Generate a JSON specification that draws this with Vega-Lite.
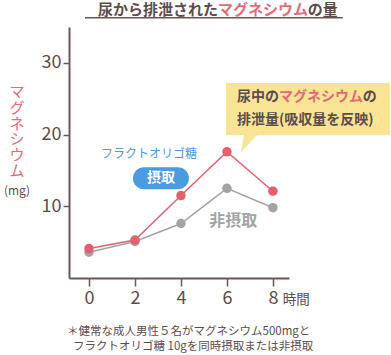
{
  "$schema": "https://vega.github.io/schema/vega-lite/v6.json",
  "width": 220,
  "height": 251,
  "autosize": "none",
  "padding": {"left": 69, "top": 27, "right": 102, "bottom": 77},
  "background": "white",
  "config": {"view": {"stroke": null}, "font": "Noto Sans CJK JP"},
  "datasets": {
    "main": [
      {"t": 0, "group": "非摂取", "mg": 3.6},
      {"t": 2, "group": "非摂取", "mg": 5.1},
      {"t": 4, "group": "非摂取", "mg": 7.6},
      {"t": 6, "group": "非摂取", "mg": 12.5},
      {"t": 8, "group": "非摂取", "mg": 9.8},
      {"t": 0, "group": "摂取", "mg": 4.1},
      {"t": 2, "group": "摂取", "mg": 5.3},
      {"t": 4, "group": "摂取", "mg": 11.5},
      {"t": 6, "group": "摂取", "mg": 17.6},
      {"t": 8, "group": "摂取", "mg": 12.1}
    ],
    "one": [{"a": 1}]
  },
  "layer": [
    {"data": {"name": "main"}, "transform": [{"filter": "datum.group === '非摂取'"}], "mark": {"type": "line", "color": "#a3a3a3", "strokeWidth": 1.5},
      "encoding": {
        "x": {"field": "t", "type": "quantitative",
          "scale": {"domain": [-0.87, 8.7], "nice": false, "zero": false},
          "axis": {"values": [0, 2, 4, 6, 8], "title": null, "grid": false,
            "domainColor": "#6b5656", "domainWidth": 2, "tickColor": "#6b5656", "tickWidth": 1.5, "tickSize": 8,
            "labelFontSize": 18, "labelColor": "#5e4b4b", "labelPadding": 3}},
        "y": {"field": "mg", "type": "quantitative",
          "scale": {"domain": [0, 35], "nice": false},
          "axis": {"values": [10, 20, 30], "title": null, "grid": false,
            "domainColor": "#6b5656", "domainWidth": 2, "tickColor": "#6b5656", "tickWidth": 1.5, "tickSize": 6,
            "labelFontSize": 18, "labelColor": "#5e4b4b", "labelPadding": 2}}
      }},
    {"data": {"name": "main"}, "transform": [{"filter": "datum.group === '非摂取'"}], "mark": {"type": "point", "filled": true, "color": "#a3a3a3", "opacity": 1, "size": 90},
      "encoding": {"x": {"field": "t", "type": "quantitative"}, "y": {"field": "mg", "type": "quantitative"}}},
    {"data": {"name": "main"}, "transform": [{"filter": "datum.group === '摂取'"}], "mark": {"type": "line", "color": "#e3606e", "strokeWidth": 1.5},
      "encoding": {"x": {"field": "t", "type": "quantitative"}, "y": {"field": "mg", "type": "quantitative"}}},
    {"data": {"name": "main"}, "transform": [{"filter": "datum.group === '摂取'"}], "mark": {"type": "point", "filled": true, "color": "#e3606e", "opacity": 1, "size": 90},
      "encoding": {"x": {"field": "t", "type": "quantitative"}, "y": {"field": "mg", "type": "quantitative"}}},

    {"data": {"name": "one"}, "mark": {"type": "rect", "color": "#f9e494"},
      "encoding": {"x": {"datum": 5.957}, "x2": {"datum": 13.09}, "y": {"datum": 27.2}, "y2": {"datum": 19.93}}},
    {"data": {"name": "one"}, "mark": {"type": "point", "filled": true, "color": "#f9e494", "opacity": 1, "size": 400, "shape": "M-0.5,-1.3L1.2,-1.3L-0.9,0.9Z"},
      "encoding": {"x": {"datum": 7.0}, "y": {"datum": 18.81}}},
    {"data": {"name": "one"}, "mark": {"type": "text", "text": "尿中の", "align": "left", "baseline": "middle", "fontSize": 14, "fontWeight": "bold", "color": "#5e4b4b"},
      "encoding": {"x": {"datum": 6.435}, "y": {"datum": 25.24}}},
    {"data": {"name": "one"}, "mark": {"type": "text", "text": "マグネシウム", "align": "left", "baseline": "middle", "fontSize": 14, "fontWeight": "bold", "color": "#e36a78"},
      "encoding": {"x": {"datum": 8.26}, "y": {"datum": 25.24}}},
    {"data": {"name": "one"}, "mark": {"type": "text", "text": "の", "align": "left", "baseline": "middle", "fontSize": 14, "fontWeight": "bold", "color": "#5e4b4b"},
      "encoding": {"x": {"datum": 11.91}, "y": {"datum": 25.24}}},
    {"data": {"name": "one"}, "mark": {"type": "text", "text": "排泄量(吸収量を反映)", "align": "left", "baseline": "middle", "fontSize": 14, "fontWeight": "bold", "color": "#5e4b4b"},
      "encoding": {"x": {"datum": 6.435}, "y": {"datum": 22.03}}},

    {"data": {"name": "one"}, "mark": {"type": "text", "text": "尿から排泄された", "align": "right", "baseline": "middle", "fontSize": 15, "fontWeight": "bold", "color": "#5e4b4b"},
      "encoding": {"x": {"datum": 5.609}, "y": {"datum": 37.34}}},
    {"data": {"name": "one"}, "mark": {"type": "text", "text": "マグネシウム", "align": "left", "baseline": "middle", "fontSize": 15, "fontWeight": "bold", "color": "#e36a78"},
      "encoding": {"x": {"datum": 5.609}, "y": {"datum": 37.34}}},
    {"data": {"name": "one"}, "mark": {"type": "text", "text": "の量", "align": "left", "baseline": "middle", "fontSize": 15, "fontWeight": "bold", "color": "#5e4b4b"},
      "encoding": {"x": {"datum": 9.52}, "y": {"datum": 37.34}}},
    {"data": {"name": "one"}, "mark": {"type": "rule", "color": "#6b5656", "strokeWidth": 1.5},
      "encoding": {"x": {"datum": -0.174}, "x2": {"datum": 11.04}, "y": {"datum": 36.29}}},

    {"data": {"name": "one"}, "mark": {"type": "text", "text": ["マ", "グ", "ネ", "シ", "ウ", "ム"], "align": "center", "baseline": "middle", "fontSize": 15, "lineHeight": 15.8, "color": "#e36a78"},
      "encoding": {"x": {"datum": -3.13}, "y": {"datum": 25.94}}},
    {"data": {"name": "one"}, "mark": {"type": "text", "text": "(mg)", "align": "center", "baseline": "middle", "fontSize": 12, "color": "#5e4b4b"},
      "encoding": {"x": {"datum": -3.13}, "y": {"datum": 12.1}}},
    {"data": {"name": "one"}, "mark": {"type": "text", "text": "時間", "align": "left", "baseline": "middle", "fontSize": 13.5, "color": "#5e4b4b"},
      "encoding": {"x": {"datum": 8.43}, "y": {"datum": -3.0}}},

    {"data": {"name": "one"}, "mark": {"type": "text", "text": "フラクトオリゴ糖", "align": "center", "baseline": "middle", "fontSize": 12, "color": "#4a9be0"},
      "encoding": {"x": {"datum": 2.61}, "y": {"datum": 17.27}}},
    {"data": {"name": "one"}, "mark": {"type": "rect", "color": "#4a9be0", "cornerRadius": 11},
      "encoding": {"x": {"datum": 1.913}, "x2": {"datum": 4.348}, "y": {"datum": 15.45}, "y2": {"datum": 12.38}}},
    {"data": {"name": "one"}, "mark": {"type": "text", "text": "摂取", "align": "center", "baseline": "middle", "fontSize": 14, "fontWeight": "bold", "color": "white"},
      "encoding": {"x": {"datum": 3.13}, "y": {"datum": 13.92}}},
    {"data": {"name": "one"}, "mark": {"type": "text", "text": "非摂取", "align": "center", "baseline": "middle", "fontSize": 16, "fontWeight": "bold", "color": "#a3a3a3"},
      "encoding": {"x": {"datum": 6.28}, "y": {"datum": 7.94}}},

    {"data": {"name": "one"}, "mark": {"type": "text", "text": "＊健常な成人男性５名がマグネシウム500mgと", "align": "left", "baseline": "middle", "fontSize": 11.5, "color": "#5e4b4b"},
      "encoding": {"x": {"datum": -0.957}, "y": {"datum": -7.48}}},
    {"data": {"name": "one"}, "mark": {"type": "text", "text": "フラクトオリゴ糖 10gを同時摂取または非摂取", "align": "left", "baseline": "middle", "fontSize": 11.5, "color": "#5e4b4b"},
      "encoding": {"x": {"datum": -0.696}, "y": {"datum": -9.58}}}
  ]
}
